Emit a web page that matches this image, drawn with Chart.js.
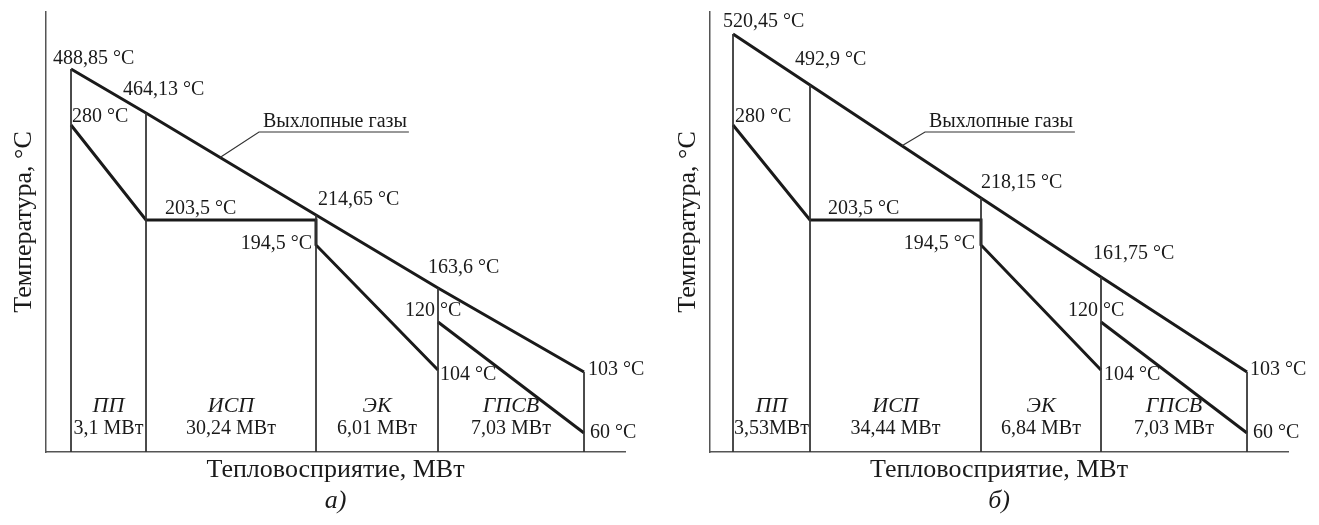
<!DOCTYPE html>
<html>
<head>
<meta charset="utf-8">
<script src="https://cdn.jsdelivr.net/npm/chart.js@4"></script>
<style>
    body { margin: 0; background: #fff; }
    .panel { position: absolute; top: 0; height: 525px; }
    #panelA { left: 0; width: 660px; }
    #panelB { left: 660px; width: 659px; }
</style>
</head>
<body>
<div class="panel" id="panelA"><canvas id="chartA"></canvas></div>
<div class="panel" id="panelB"><canvas id="chartB"></canvas></div>
<script>
// Données (schéma : positions relatives)
const sectionNames = ['ПП', 'ИСП', 'ЭК', 'ГПСВ'];

// a)
const boundsA = [25, 100, 270, 392, 538];
const gasA = [383, 339, 237, 164, 80];
const waterA = [327, 232, 232, 207, 82];
const hotWaterA = [130, 19];
const gasLabelsA = ['488,85 °C', '464,13 °C', '214,65 °C', '163,6 °C', '103 °C'];
const waterLabelsA = ['280 °C', '203,5 °C', '194,5 °C', '104 °C'];
const hotWaterLabelsA = ['120 °C', '60 °C'];
const powersA = ['3,1 МВт', '30,24 МВт', '6,01 МВт', '7,03 МВт'];

// б)
const boundsB = [23, 100, 271, 391, 537];
const gasB = [418, 367, 254, 175, 80];
const waterB = [327, 232, 232, 207, 82];
const hotWaterB = [130, 19];
const gasLabelsB = ['520,45 °C', '492,9 °C', '218,15 °C', '161,75 °C', '103 °C'];
const waterLabelsB = ['280 °C', '203,5 °C', '194,5 °C', '104 °C'];
const hotWaterLabelsB = ['120 °C', '60 °C'];
const powersB = ['3,53МВт', '34,44 МВт', '6,84 МВт', '7,03 МВт'];

const FONT = '"Liberation Serif", "DejaVu Serif", serif';
const INK = '#1a1a1a';

// placement des étiquettes (décalages en px par rapport au point)
const layoutA = {
    pad: { left: 46, right: 35, top: 12, bottom: 73 },
    xMax: 579,
    gasOff: [[-18, -10, 'left'], [-23, -23, 'left'], [2, -15, 'left'], [-10, -20, 'left'], [4, -2, 'left']],
    waterOff: [[1, -8, 'left'], [19, -11, 'left'], [-4, -1, 'right'], [2, 5, 'left']],
    hotOff: [[-33, -11, 'left'], [6, 0, 'left']],
    leaderX: 174, tagLeft: 263
};
const layoutB = {
    pad: { left: 50, right: 31, top: 12, bottom: 73 },
    xMax: 578,
    gasOff: [[-10, -12, 'left'], [-15, -25, 'left'], [0, -15, 'left'], [-8, -23, 'left'], [3, -2, 'left']],
    waterOff: [[2, -8, 'left'], [18, -11, 'left'], [-6, -1, 'right'], [3, 5, 'left']],
    hotOff: [[-33, -11, 'left'], [6, 0, 'left']],
    leaderX: 192, tagLeft: 265
};

function buildDatasets(bounds, gas, water, hot) {
    const thick = { showLine: true, borderColor: INK, borderWidth: 3, pointRadius: 0, fill: false, borderJoinStyle: 'miter' };
    const thin = { showLine: true, borderColor: '#333', borderWidth: 1, pointRadius: 0, fill: false };
    const ds = [];
    bounds.forEach((b, i) => {
        ds.push({ ...thin, data: [{ x: b, y: gas[i] }, { x: b, y: 0 }] });
    });
    ds.push({ ...thick, data: bounds.map((b, i) => ({ x: b, y: gas[i] })) });
    ds.push({ ...thick, data: [
        { x: bounds[0], y: water[0] }, { x: bounds[1], y: water[1] },
        { x: bounds[2], y: water[2] }, { x: bounds[2], y: water[3] },
        { x: bounds[3], y: water[4] }
    ] });
    ds.push({ ...thick, data: [{ x: bounds[3], y: hot[0] }, { x: bounds[4], y: hot[1] }] });
    return ds;
}

function makeChart(id, bounds, gas, water, hot, gasLbl, waterLbl, hotLbl, powers, layout, caption) {
    const textPlugin = {
        id: 'texts',
        afterDraw(chart) {
            const ctx = chart.ctx;
            const xs = chart.scales.x, ys = chart.scales.y;
            const area = chart.chartArea;
            const px = v => xs.getPixelForValue(v);
            const py = v => ys.getPixelForValue(v);
            ctx.save();
            ctx.fillStyle = INK;
            ctx.textBaseline = 'middle';
            ctx.font = '20px ' + FONT;

            const put = (txt, x, y, off) => {
                ctx.textAlign = off[2];
                ctx.fillText(txt, x + off[0], y + off[1]);
            };
            gasLbl.forEach((t, i) => put(t, px(bounds[i]), py(gas[i]), layout.gasOff[i]));
            const wPts = [[bounds[0], water[0]], [bounds[1], water[1]], [bounds[2], water[3]], [bounds[3], water[4]]];
            waterLbl.forEach((t, i) => put(t, px(wPts[i][0]), py(wPts[i][1]), layout.waterOff[i]));
            hotLbl.forEach((t, i) => put(t, px(bounds[3 + i]), py(hot[i]), layout.hotOff[i]));

            // sections
            ctx.textAlign = 'center';
            for (let i = 0; i < 4; i++) {
                const cx = (px(bounds[i]) + px(bounds[i + 1])) / 2;
                ctx.font = 'italic 22px ' + FONT;
                ctx.fillText(sectionNames[i], cx, area.bottom - 46);
                ctx.font = '20px ' + FONT;
                ctx.fillText(powers[i], cx, area.bottom - 23);
            }

            // Выхлопные газы + renvoi
            ctx.font = '20px ' + FONT;
            ctx.textAlign = 'left';
            const tagX = area.left + layout.tagLeft - 46;
            const tagW = ctx.measureText('Выхлопные газы').width;
            ctx.fillText('Выхлопные газы', tagX, 122);
            const lx = px(layout.leaderX);
            const seg = gas.findIndex((g, i) => i < bounds.length - 1 && layout.leaderX <= bounds[i + 1]);
            const ly = py(gas[seg] + (gas[seg + 1] - gas[seg]) * (layout.leaderX - bounds[seg]) / (bounds[seg + 1] - bounds[seg]));
            ctx.strokeStyle = '#333';
            ctx.lineWidth = 1.2;
            ctx.beginPath();
            ctx.moveTo(tagX + tagW + 2, 132);
            ctx.lineTo(tagX - 4, 132);
            ctx.lineTo(lx, ly);
            ctx.stroke();

            // titres des axes
            ctx.font = '26px ' + FONT;
            ctx.textAlign = 'center';
            ctx.fillText('Тепловосприятие, МВт', (area.left + area.right) / 2, area.bottom + 18);
            ctx.font = 'italic 26px ' + FONT;
            ctx.fillText(caption, (area.left + area.right) / 2, area.bottom + 49);
            ctx.translate(area.left - 22, 222);
            ctx.rotate(-Math.PI / 2);
            ctx.font = '26px ' + FONT;
            ctx.fillText('Температура, °С', 0, 0);
            ctx.restore();
        }
    };

    return new Chart(document.getElementById(id), {
        type: 'scatter',
        data: { datasets: buildDatasets(bounds, gas, water, hot) },
        options: {
            responsive: true,
            maintainAspectRatio: false,
            animation: false,
            layout: { padding: layout.pad },
            plugins: { legend: { display: false }, tooltip: { enabled: false } },
            scales: {
                x: {
                    type: 'linear', min: 0, max: layout.xMax,
                    ticks: { display: false },
                    grid: { display: false, drawTicks: false },
                    border: { display: true, color: '#555', width: 1.5 }
                },
                y: {
                    type: 'linear', min: 0, max: 440,
                    ticks: { display: false },
                    grid: { display: false, drawTicks: false },
                    border: { display: true, color: '#555', width: 1.5 }
                }
            }
        },
        plugins: [textPlugin]
    });
}

makeChart('chartA', boundsA, gasA, waterA, hotWaterA, gasLabelsA, waterLabelsA, hotWaterLabelsA, powersA, layoutA, 'а)');
makeChart('chartB', boundsB, gasB, waterB, hotWaterB, gasLabelsB, waterLabelsB, hotWaterLabelsB, powersB, layoutB, 'б)');
</script>
</body>
</html>
